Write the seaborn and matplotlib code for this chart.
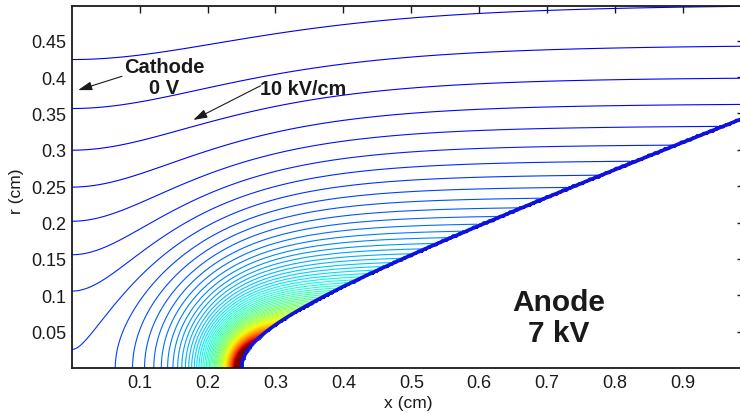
import numpy as np
import matplotlib
matplotlib.use("Agg")
import matplotlib.pyplot as plt
from matplotlib.colors import Normalize
import seaborn as sns

# ---------------- values ----------------
cathode_x = 0.0                 # cm, grounded cathode plane
anode_tip_x = 0.25              # cm, tip of hyperbolic anode on the axis
anode_edge_point = (0.98, 0.34) # cm, a point on the anode surface (x, r)
anode_voltage_kV = 7.0          # kV
field_level_step = 1.0          # kV/cm between contour lines
color_max = 85.0                # kV/cm at top of colour scale
x_limits = (0.0, 0.99)
r_limits = (0.0, 0.498)
grid_step = 0.003               # cm, field sampling step

x_ticks = [0.1, 0.2, 0.3, 0.4, 0.5, 0.6, 0.7, 0.8, 0.9]
x_tick_labels = ["0.1", "0.2", "0.3", "0.4", "0.5", "0.6", "0.7", "0.8", "0.9"]
y_ticks = [0.05, 0.1, 0.15, 0.2, 0.25, 0.3, 0.35, 0.4, 0.45]
y_tick_labels = ["0.05", "0.1", "0.15", "0.2", "0.25", "0.3", "0.35", "0.4", "0.45"]

# ---------------- field magnitude (hyperboloid anode vs plane) ----------------
a = anode_tip_x - cathode_x
xp, rp = anode_edge_point
b = rp / np.sqrt(((xp - cathode_x) / a) ** 2 - 1.0)
c = np.hypot(a, b)
eta0 = a / c
A = anode_voltage_kV / np.arctanh(eta0)

xs = np.arange(x_limits[0], x_limits[1] + 1e-9, grid_step)
rs = np.arange(r_limits[0], 0.5 + 1e-9, grid_step)
X, R = np.meshgrid(xs, rs)
d1 = np.hypot(X - cathode_x + c, R)
d2 = np.hypot(X - cathode_x - c, R)
xi = (d1 + d2) / (2 * c)
eta = (d1 - d2) / (2 * c)
E = A / (c * np.sqrt(np.clip((xi ** 2 - eta ** 2) * (1 - eta ** 2), 1e-12, None)))
E[eta >= eta0 - 1e-9] = 0.0   # inside the conductor
levels = np.arange(field_level_step, E.max(), field_level_step)

# ---------------- plotting ----------------
sns.set_theme(style="white")
plt.rcParams["font.family"] = ["Liberation Sans", "DejaVu Sans"]

fig = plt.figure(figsize=(7.4, 4.14), dpi=100)
ax = fig.add_axes([0.097, 0.1085, 0.9084, 0.8753])

ax.contour(X, R, E, levels=levels, cmap="jet",
           norm=Normalize(0, color_max), linewidths=0.8)
# anode surface, where the low-field contours pile up
ax.contour(X, R, eta, levels=[eta0], colors=["#1010e0"], linewidths=2.6)

ax.set_xlim(*x_limits)
ax.set_ylim(*r_limits)
ax.set_xticks(x_ticks)
ax.set_xticklabels(x_tick_labels)
ax.set_yticks(y_ticks)
ax.set_yticklabels(y_tick_labels)
ax.tick_params(direction="in", length=5, width=1, top=True, right=True,
               labelsize=13, pad=4, colors="k")
for s in ax.spines.values():
    s.set_visible(True)
    s.set_color("k")
    s.set_linewidth(1.3)

ax.set_xlabel("x (cm)", fontsize=12.5, color="k")
ax.set_ylabel("r (cm)", fontsize=12.5, color="k")
ax.xaxis.set_label_coords(0.5, -0.0963)
ax.xaxis.label.set_va("center")
ax.yaxis.set_label_coords(-0.0815, 0.49)
ax.yaxis.label.set_va("center")

arrow = dict(arrowstyle="-|>,head_length=0.7,head_width=0.22", color="k",
             lw=0.8, shrinkA=0, shrinkB=0)
ax.annotate("", xy=(0.0093, 0.382), xytext=(0.074, 0.401), arrowprops=arrow)
ax.text(0.1365, 0.400, "Cathode\n0 V", ha="center", va="center",
        fontsize=14.5, fontweight="bold", color="k", linespacing=1.15)
ax.annotate("", xy=(0.179, 0.341), xytext=(0.278, 0.388), arrowprops=arrow)
ax.text(0.340, 0.3836, "10 kV/cm", ha="center", va="center",
        fontsize=14.3, fontweight="bold", color="k")
ax.text(0.7175, 0.0697, "Anode\n7 kV", ha="center", va="center",
        fontsize=21.5, fontweight="bold", color="k", linespacing=1.15)

fig.savefig("out.png", dpi=100)
